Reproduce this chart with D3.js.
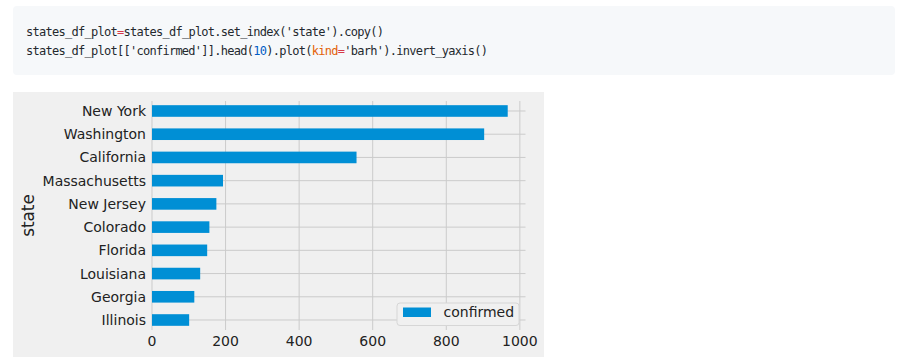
<!DOCTYPE html>
<html>
<head>
<meta charset="utf-8">
<script src="https://cdn.jsdelivr.net/npm/d3@7"></script>
<style>
  body { margin: 0; background: #fff; }
  svg { display: block; }
</style>
</head>
<body>
<div id="chart"></div>
<script>
'use strict';

const states = ['New York', 'Washington', 'California', 'Massachusetts', 'New Jersey',
                'Colorado', 'Florida', 'Louisiana', 'Georgia', 'Illinois'];
const confirmed = [967, 903, 556, 193, 175, 156, 150, 131, 115, 101];
const xTicks = [0, 200, 400, 600, 800, 1000];
const seriesName = 'confirmed';

// code cell, split into coloured tokens
const codeLines = [
    [['states_df_plot', 'txt'], ['=', 'op'], ["states_df_plot.set_index('state').copy()", 'txt']],
    [["states_df_plot[['confirmed']].head(", 'txt'], ['10', 'num'], [').plot(', 'txt'],
     ['kind', 'kw'], ['=', 'op'], ["'barh').invert_yaxis()", 'txt']]
];
const codeColor = {txt: '#24292e', op: '#d73a49', num: '#005cc5', kw: '#e36209'};

const W = 908, H = 361;
const svg = d3.select('#chart').append('svg')
    .attr('width', W)
    .attr('height', H);

// code block
svg.append('rect')
    .attr('x', 13).attr('y', 6)
    .attr('width', 882).attr('height', 69)
    .attr('rx', 4)
    .style('fill', '#f6f8fa');

svg.selectAll('text.code')
    .data(codeLines)
    .enter().append('text')
        .attr('class', 'code')
        .attr('x', 26)
        .attr('y', (d, i) => 36.3 + i * 18.4)
        .style('font-family', '"DejaVu Sans Mono", "Liberation Mono", monospace')
        .style('font-size', '12px')
        .style('letter-spacing', '-0.73px')
        .style('white-space', 'pre')
    .selectAll('tspan')
    .data(d => d)
    .enter().append('tspan')
        .text(d => d[0])
        .style('fill', d => codeColor[d[1]]);

// figure background
svg.append('rect')
    .attr('x', 13).attr('y', 92)
    .attr('width', 531).attr('height', 265)
    .style('fill', '#f0f0f0');

const x = d3.scaleLinear()
    .domain([0, d3.max(confirmed) * 1.05])
    .range([152, 525.5]);
const y = d3.scaleLinear()
    .domain([-0.43, states.length - 1 + 0.43])
    .range([101, 330]);

const grid = '#cbcbcb';
const font = '"DejaVu Sans", sans-serif';
const textColor = '#222';

// grid lines
svg.append('g').selectAll('line')
    .data(xTicks)
    .enter().append('line')
        .attr('x1', d => x(d)).attr('x2', d => x(d))
        .attr('y1', y.range()[0]).attr('y2', y.range()[1])
        .style('stroke', grid).style('stroke-width', 1);

svg.append('g').selectAll('line')
    .data(states)
    .enter().append('line')
        .attr('x1', x.range()[0]).attr('x2', x.range()[1])
        .attr('y1', (d, i) => y(i)).attr('y2', (d, i) => y(i))
        .style('stroke', grid).style('stroke-width', 1);

// bars
const barH = y(0.5) - y(0);
svg.append('g').selectAll('rect')
    .data(confirmed)
    .enter().append('rect')
        .attr('x', x(0))
        .attr('y', (d, i) => y(i) - barH / 2)
        .attr('width', d => x(d) - x(0))
        .attr('height', barH)
        .style('fill', '#008fd5');

// tick labels
svg.append('g').selectAll('text')
    .data(xTicks)
    .enter().append('text')
        .attr('x', d => x(d))
        .attr('y', 345.5)
        .attr('text-anchor', 'middle')
        .style('font-family', font).style('font-size', '14px')
        .style('fill', textColor)
        .text(d => d);

svg.append('g').selectAll('text')
    .data(states)
    .enter().append('text')
        .attr('x', 146)
        .attr('y', (d, i) => y(i))
        .attr('dy', '0.36em')
        .attr('text-anchor', 'end')
        .style('font-family', font).style('font-size', '14px')
        .style('fill', textColor)
        .text(d => d);

svg.append('text')
    .attr('transform', `translate(34,${(y.range()[0] + y.range()[1]) / 2}) rotate(-90)`)
    .attr('text-anchor', 'middle')
    .style('font-family', font).style('font-size', '16.8px')
    .style('fill', textColor)
    .text('state');

// legend
const legend = svg.append('g').attr('transform', 'translate(397,303)');
legend.append('rect')
    .attr('width', 122).attr('height', 22.5)
    .attr('rx', 3)
    .style('fill', '#f0f0f0')
    .style('stroke', '#d6d6d6');
legend.append('rect')
    .attr('x', 6).attr('y', 4.5)
    .attr('width', 28).attr('height', 9.5)
    .style('fill', '#008fd5');
legend.append('text')
    .attr('x', 46.5).attr('y', 14.3)
    .style('font-family', font).style('font-size', '14px')
    .style('fill', textColor)
    .text(seriesName);
</script>
</body>
</html>
